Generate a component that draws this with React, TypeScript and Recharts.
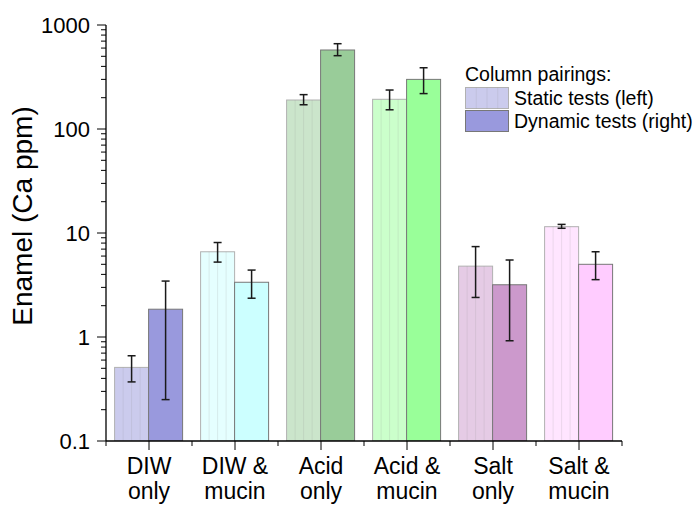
import React from 'react';
import { BarChart, Bar, XAxis, YAxis, ErrorBar } from 'recharts';

const categories = ['DIW only', 'DIW & mucin', 'Acid only', 'Acid & mucin', 'Salt only', 'Salt & mucin'];

const staticMean = [0.51, 6.6, 190, 193, 4.8, 11.5];
const staticLow = [0.37, 5.25, 171, 153, 2.4, 11.1];
const staticHigh = [0.66, 8.1, 214, 237, 7.4, 12.1];

const dynamicMean = [1.85, 3.36, 575, 300, 3.18, 5.0];
const dynamicLow = [0.25, 2.36, 507, 219, 0.92, 3.56];
const dynamicHigh = [3.45, 4.4, 661, 388, 5.5, 6.6];

const dynamicColors = ['#9999dd', '#ccffff', '#99cc99', '#99ff99', '#cc99cc', '#ffccff'];

const majorTicks = [0.1, 1, 10, 100, 1000];
const minorMultipliers = [2, 3, 4, 5, 6, 7, 8, 9];

const legendTitle = 'Column pairings:';
const legendStatic = 'Static tests (left)';
const legendDynamic = 'Dynamic tests (right)';
const yTitle = 'Enamel (Ca ppm)';

const FONT = '"Liberation Sans", Arial, Helvetica, sans-serif';

const data = categories.map((name, i) => ({
  name,
  static: staticMean[i],
  staticErr: [staticMean[i] - staticLow[i], staticHigh[i] - staticMean[i]],
  dynamic: dynamicMean[i],
  dynamicErr: [dynamicMean[i] - dynamicLow[i], dynamicHigh[i] - dynamicMean[i]],
}));

const allTicks: number[] = [];
majorTicks.forEach((m, i) => {
  allTicks.push(m);
  if (i < majorTicks.length - 1) minorMultipliers.forEach((k) => allTicks.push(m * k));
});

const isMajor = (v: number) => majorTicks.some((m) => Math.abs(m - v) < 1e-9 * m);

function YTick(props: any) {
  const { x, y, payload } = props;
  const v = payload.value;
  const major = isMajor(v);
  const len = major ? 9 : 5;
  return (
    <g>
      <line x1={x - len} x2={x} y1={y} y2={y} stroke="#000" strokeWidth={1} />
      {major && (
        <text x={x - 16} y={y} dy="0.36em" textAnchor="end" fontFamily={FONT} fontSize={22} fill="#000">
          {String(v)}
        </text>
      )}
    </g>
  );
}

function XTick(props: any) {
  const { x, y, payload, index, visibleTicksCount } = props;
  const half = payload && typeof payload.offset === 'number' && payload.offset > 0 ? payload.offset : 43;
  const label: string = payload.value;
  const cut = label.lastIndexOf(' ');
  const l1 = label.slice(0, cut);
  const l2 = label.slice(cut + 1);
  return (
    <g>
      <line x1={x} x2={x} y1={y} y2={y + 9} stroke="#000" strokeWidth={1} />
      <line x1={x - half} x2={x - half} y1={y} y2={y + 5} stroke="#000" strokeWidth={1} />
      {index === visibleTicksCount - 1 && (
        <line x1={x + half} x2={x + half} y1={y} y2={y + 5} stroke="#000" strokeWidth={1} />
      )}
      <text x={x} y={y + 33} textAnchor="middle" fontFamily={FONT} fontSize={23} fill="#000">
        {l1}
      </text>
      <text x={x} y={y + 58} textAnchor="middle" fontFamily={FONT} fontSize={23} fill="#000">
        {l2}
      </text>
    </g>
  );
}

function StaticShape(props: any) {
  const { x, y, width, height, index } = props;
  if (!(height > 0)) return null;
  const color = dynamicColors[index];
  return (
    <g opacity={0.5}>
      <rect x={x} y={y} width={width} height={height} fill={color} stroke="#666" strokeWidth={1} />
      {[1, 2, 3].map((k) => (
        <line key={k} x1={x + (width * k) / 4} x2={x + (width * k) / 4} y1={y} y2={y + height} stroke="#000" strokeOpacity={0.15} strokeWidth={1} />
      ))}
    </g>
  );
}

function DynamicShape(props: any) {
  const { x, y, width, height, index } = props;
  if (!(height > 0)) return null;
  const color = dynamicColors[index];
  return <rect x={x} y={y} width={width} height={height} fill={color} stroke="#777" strokeWidth={1} />;
}

function YTitle(props: any) {
  const vb = props.viewBox || { x: 0, y: 25, width: 106, height: 416 };
  const cx = 22;
  const cy = vb.y + vb.height / 2 - 17;
  return (
    <text x={cx} y={cy} dy="0.36em" transform={`rotate(-90 ${cx} ${cy})`} textAnchor="middle" fontFamily={FONT} fontSize={28} fill="#000">
      {yTitle}
    </text>
  );
}

function Swatch({ striped }: { striped: boolean }) {
  const w = 43;
  const h = 21;
  const color = dynamicColors[0];
  return (
    <svg width={w + 2} height={h + 2} style={{ display: 'block' }}>
      <g opacity={striped ? 0.5 : 1}>
        <rect x={0.5} y={0.5} width={w} height={h} fill={color} stroke={striped ? '#666' : '#777'} strokeWidth={1} />
        {striped &&
          [1, 2, 3].map((k) => (
            <line key={k} x1={0.5 + (w * k) / 4} x2={0.5 + (w * k) / 4} y1={0.5} y2={h + 0.5} stroke="#000" strokeOpacity={0.15} />
          ))}
      </g>
    </svg>
  );
}

export default function App() {
  const textStyle: React.CSSProperties = {
    position: 'absolute',
    fontFamily: FONT,
    fontSize: 19.5,
    color: '#000',
    whiteSpace: 'nowrap',
    lineHeight: '22px',
  };
  return (
    <div style={{ position: 'absolute', left: 0, top: 0, width: 695, height: 505, background: '#fff' }}>
      <BarChart
        width={695}
        height={505}
        data={data}
        margin={{ top: 25, right: 73, left: 0, bottom: 0 }}
        barCategoryGap="10%"
        barGap={0}
      >
        <XAxis
          dataKey="name"
          height={64}
          tickLine={false}
          tickSize={0}
          tickMargin={0}
          interval={0}
          axisLine={{ stroke: '#000', strokeWidth: 1.3 }}
          tick={<XTick />}
        />
        <YAxis
          width={106}
          scale="log"
          domain={[0.1, 1000]}
          allowDataOverflow
          ticks={allTicks}
          interval={0}
          tickLine={false}
          tickSize={0}
          tickMargin={0}
          axisLine={{ stroke: '#000', strokeWidth: 1.3 }}
          tick={<YTick />}
          label={<YTitle />}
        />
        <Bar dataKey="static" isAnimationActive={false} shape={<StaticShape />}>
          <ErrorBar dataKey="staticErr" direction="y" width={4} stroke="#1a1a1a" strokeWidth={1.5} isAnimationActive={false} />
        </Bar>
        <Bar dataKey="dynamic" isAnimationActive={false} shape={<DynamicShape />}>
          <ErrorBar dataKey="dynamicErr" direction="y" width={4} stroke="#1a1a1a" strokeWidth={1.5} isAnimationActive={false} />
        </Bar>
      </BarChart>
      <div style={{ ...textStyle, left: 465, top: 63 }}>{legendTitle}</div>
      <div style={{ position: 'absolute', left: 465, top: 87 }}>
        <Swatch striped />
      </div>
      <div style={{ ...textStyle, left: 514, top: 87 }}>{legendStatic}</div>
      <div style={{ position: 'absolute', left: 465, top: 110 }}>
        <Swatch striped={false} />
      </div>
      <div style={{ ...textStyle, left: 514, top: 110 }}>{legendDynamic}</div>
    </div>
  );
}
